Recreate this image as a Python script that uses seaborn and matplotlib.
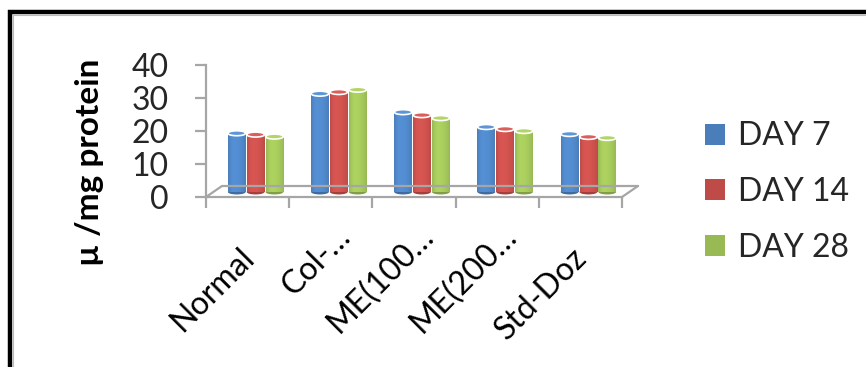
import numpy as np
import pandas as pd
import matplotlib
matplotlib.use("Agg")
import matplotlib.pyplot as plt
import matplotlib.transforms as mtransforms
from matplotlib.patches import Ellipse, Patch, Rectangle
from matplotlib.lines import Line2D
import matplotlib.colors as mcolors
import seaborn as sns

# ---- data -------------------------------------------------------------
groups = ["Normal", "Col-…", "ME(100…", "ME(200…", "Std-Doz"]
days = ["DAY 7", "DAY 14", "DAY 28"]
day7 = [17.8, 29.8, 24.2, 19.7, 17.6]
day14 = [17.4, 30.3, 23.3, 19.1, 16.7]
day28 = [16.8, 31.0, 22.4, 18.5, 16.4]
y_ticks = [0, 10, 20, 30, 40]
y_label = "µ /mg protein"

colors = ["#4A7EBB", "#BE4B48", "#98B954"]

df = pd.DataFrame({
    "group": groups * 3,
    "day": [d for d in days for _ in groups],
    "value": day7 + day14 + day28,
})

# ---- layout (pixels) --------------------------------------------------
W, H = 866, 367
X0, X1 = 206, 622          # front edge of floor
Y0, YTOP = 197, 65         # value 0 and value 40 on the front wall
DEPTH = (16, 11)           # floor depth offset
MID = (8, 5)               # bar row sits half way into the floor
FS = 23                    # body text size

def fx(px):
    return px / W

def fy(py):
    return 1 - py / H

sns.set_theme(style="white")
plt.rcParams["font.family"] = ["Lato", "DejaVu Sans"]

fig = plt.figure(figsize=(W / 100, H / 100), dpi=100)
fig.patch.set_facecolor("white")

axw, axh = fx(X1) - fx(X0), fy(YTOP) - fy(Y0)
ax = fig.add_axes([fx(X0), fy(Y0), axw, axh])
ax2 = fig.add_axes([fx(X0 + MID[0]), fy(Y0 - MID[1]), axw, axh])
ax2.patch.set_alpha(0)

grey = "#A6A6A6"
for a in (ax, ax2):
    a.set_xlim(-0.5, len(groups) - 0.5)
    a.set_ylim(0, 40)

# ---- front wall axis --------------------------------------------------
for s in ("top", "right"):
    ax.spines[s].set_visible(False)
for s in ("left", "bottom"):
    ax.spines[s].set_color(grey)
    ax.spines[s].set_linewidth(1.6)
ax.set_yticks(y_ticks)
ax.set_yticklabels([str(v) for v in y_ticks], fontsize=FS)
ax.tick_params(axis="y", direction="out", length=8, width=1.6, color=grey,
               pad=19, left=True)
ax.set_xticks(np.arange(len(groups) + 1) - 0.5)
ax.set_xticklabels([])
ax.tick_params(axis="x", direction="out", length=8, width=1.6, color=grey,
               bottom=True)
ax.set_facecolor("none")

# floor: back edge and the two side edges
dx, dy = DEPTH
floor_kw = dict(color=grey, lw=1.6, transform=fig.transFigure)
fig.add_artist(Line2D([fx(X0 + dx), fx(X1 + dx)], [fy(Y0 - dy), fy(Y0 - dy)], **floor_kw))
fig.add_artist(Line2D([fx(X0), fx(X0 + dx)], [fy(Y0), fy(Y0 - dy)], **floor_kw))
fig.add_artist(Line2D([fx(X1), fx(X1 + dx)], [fy(Y0), fy(Y0 - dy)], **floor_kw))

# ---- bars -------------------------------------------------------------
sns.barplot(data=df, x="group", y="value", hue="day", palette=colors,
            width=0.68, gap=0.06, saturation=1, ax=ax2, legend=False,
            edgecolor="none")
ax2.axis("off")

# cylinder shading: horizontal gradient clipped to each bar
t = np.linspace(0, 1, 64)
shade = np.where(t < 0.35, 1 - 0.45 * ((0.35 - t) / 0.35) ** 2,
                 1 - 0.45 * ((t - 0.35) / 0.65) ** 2)
cap_h = 1.5
bars = [p for p in ax2.patches if isinstance(p, Rectangle) and p.get_height() > 0]
for p in bars:
    rgb = np.array(mcolors.to_rgb(p.get_facecolor()))
    img = np.clip(rgb[None, :] * (0.82 + 0.32 * shade[:, None]), 0, 1)
    img = img[None, :, :]
    x, w, h = p.get_x(), p.get_width(), p.get_height()
    im = ax2.imshow(img, extent=(x, x + w, -cap_h, h), aspect="auto",
                    zorder=3, interpolation="bilinear")
    im.set_clip_path(Rectangle((x, 0), w, h, transform=ax2.transData))
    bottom = Ellipse((x + w / 2, 0), w, cap_h, facecolor=rgb * 0.85,
                     edgecolor="none", zorder=2.5, clip_on=False)
    ax2.add_patch(bottom)
    im2 = ax2.imshow(img, extent=(x, x + w, -cap_h, h), aspect="auto",
                     zorder=2.6, interpolation="bilinear")
    im2.set_clip_path(Ellipse((x + w / 2, 0), w, cap_h, transform=ax2.transData))
    top = Ellipse((x + w / 2, h), w, cap_h,
                  facecolor=np.clip(rgb * 1.08 + 0.05, 0, 1),
                  edgecolor="white", lw=1.2, zorder=4, clip_on=False)
    ax2.add_patch(top)
    p.set_visible(False)
ax2.set_xlim(-0.5, len(groups) - 0.5)
ax2.set_ylim(0, 40)

# ---- category labels --------------------------------------------------
for i, lab in enumerate(groups):
    truncated = lab.endswith("…")
    ox, oy = (21, -41) if truncated else (8, -62)
    tr = ax.get_xaxis_transform() + mtransforms.ScaledTranslation(
        ox / 100, oy / 100, fig.dpi_scale_trans)
    ax.text(i, 0, lab, transform=tr, rotation=45, rotation_mode="anchor",
            ha="right", va="baseline", fontsize=FS, color="black", clip_on=False)

# ---- axis title -------------------------------------------------------
fig.text(fx(90), fy(162), y_label, rotation=90, ha="center", va="center",
         fontsize=24, fontweight="bold", color="black")

# ---- legend -----------------------------------------------------------
handles = [Patch(facecolor=c, edgecolor="none") for c in colors]
fig.legend(handles, days, loc="center left", bbox_to_anchor=(fx(705), fy(192)),
           frameon=False, fontsize=FS, handlelength=0.62, handleheight=0.62,
           handletextpad=0.42, labelspacing=0.8, borderaxespad=0, borderpad=0)

# ---- chart frame ------------------------------------------------------
fig.add_artist(Line2D([fx(8), 1.0], [fy(12), fy(12)], color="black", lw=3.2,
                      transform=fig.transFigure, solid_capstyle="butt"))
fig.add_artist(Line2D([fx(10), fx(10)], [fy(10), 0.0], color="black", lw=3.2,
                      transform=fig.transFigure, solid_capstyle="butt"))
fig.add_artist(Line2D([fx(13), 1.0], [fy(15), fy(15)], color="#BBBBBB", lw=0.8,
                      transform=fig.transFigure))
fig.add_artist(Line2D([fx(13), fx(13)], [fy(15), 0.0], color="#BBBBBB", lw=0.8,
                      transform=fig.transFigure))

fig.savefig("out.png", dpi=100, facecolor="white")
